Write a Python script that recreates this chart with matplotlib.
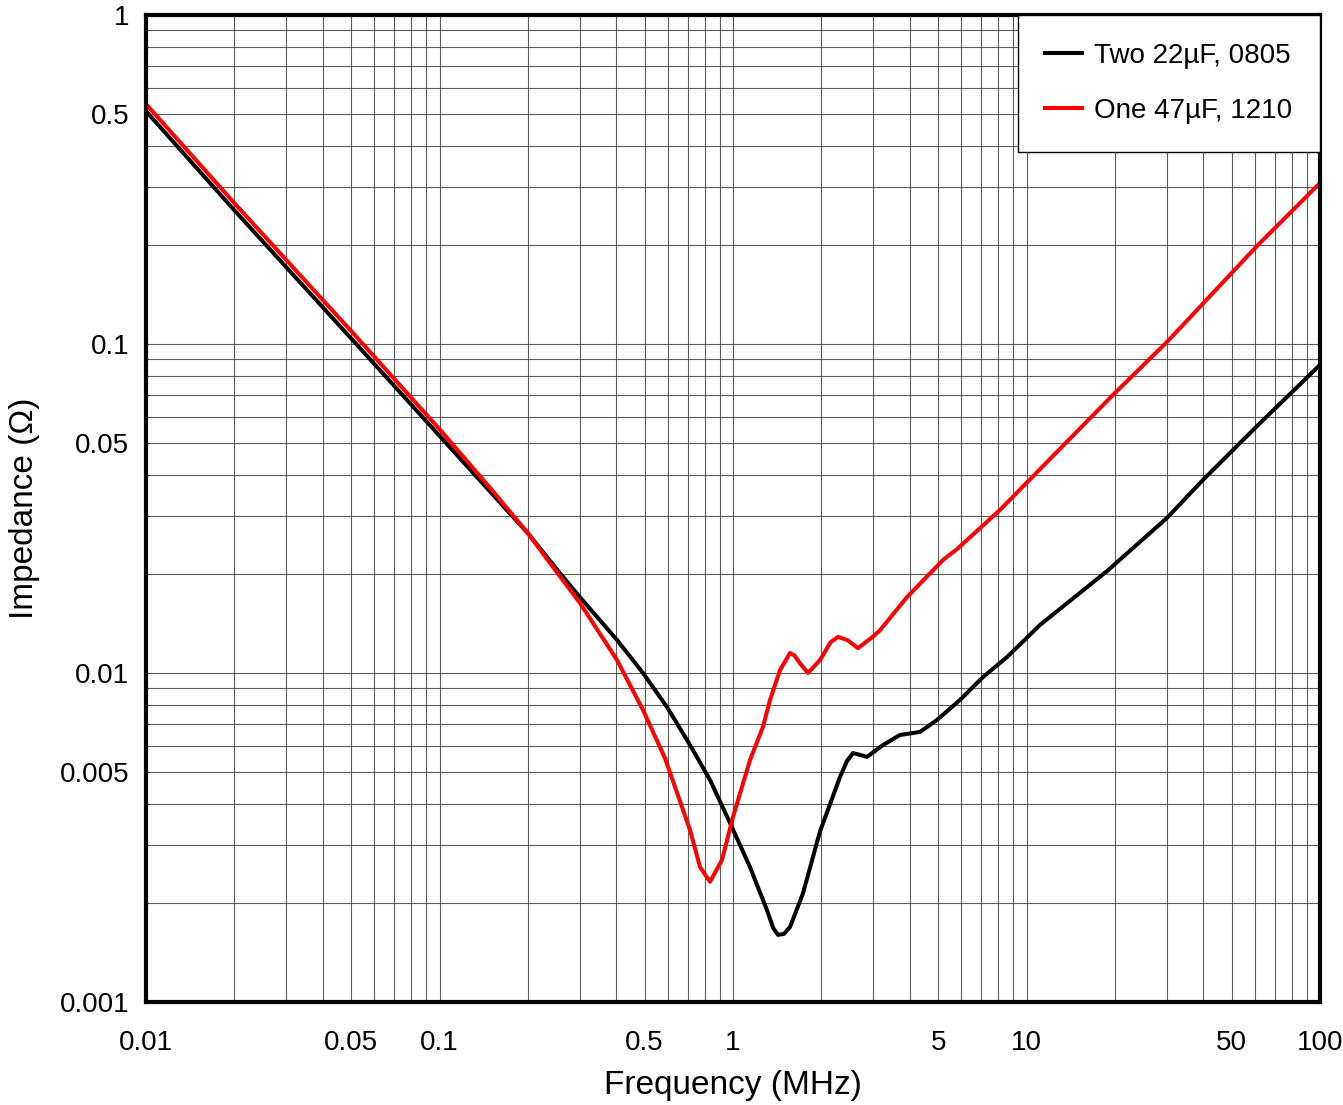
import matplotlib
matplotlib.use("Agg")
import matplotlib.pyplot as plt
from matplotlib.ticker import FixedLocator, FixedFormatter, LogLocator, NullFormatter

plt.rcParams['font.family'] = ['Liberation Sans', 'DejaVu Sans']

# Frequency (MHz) and impedance (Ohm)
freq_two22 = [0.01, 0.02, 0.05, 0.1, 0.2, 0.2574, 0.301, 0.4025, 0.4936, 0.596, 0.714,
              0.835, 0.977, 1.143, 1.306, 1.37, 1.423, 1.49, 1.564, 1.732, 1.979, 2.315,
              2.445, 2.564, 2.646, 2.861, 3.244, 3.707, 4.337, 4.956, 5.935, 7.108, 8.583,
              11.12, 18.8, 30.1, 39.9, 61.0, 100.0]
z_two22 = [0.51, 0.255, 0.104, 0.0526, 0.0266, 0.0201, 0.0170, 0.0126, 0.0100, 0.00788,
           0.00604, 0.00473, 0.0035, 0.00257, 0.0019, 0.00168, 0.0016, 0.00161, 0.00169,
           0.00214, 0.0033, 0.00483, 0.0054, 0.00571, 0.00567, 0.00556, 0.00604, 0.00648,
           0.00662, 0.0072, 0.00828, 0.00972, 0.01118, 0.014, 0.0204, 0.0296, 0.0386,
           0.0563, 0.0864]

freq_one47 = [0.01, 0.02, 0.05, 0.1, 0.15, 0.2, 0.2435, 0.301, 0.4025, 0.4936, 0.5865,
              0.714, 0.772, 0.835, 0.917, 1.0, 1.143, 1.265, 1.337, 1.446, 1.564, 1.62,
              1.691, 1.801, 1.979, 2.15, 2.279, 2.45, 2.667, 3.0, 3.17, 3.915, 5.194, 5.8,
              8.12, 19.7, 30.1, 61.0, 100.0]
z_one47 = [0.536, 0.268, 0.1095, 0.0551, 0.0362, 0.0266, 0.021, 0.01632, 0.01095, 0.00772,
           0.00551, 0.00333, 0.00257, 0.00232, 0.0027, 0.00365, 0.00544, 0.00686, 0.00828,
           0.0102, 0.0115, 0.0113, 0.0107, 0.0100, 0.01095, 0.0124, 0.01287, 0.0126, 0.0119,
           0.0129, 0.0135, 0.0170, 0.02206, 0.0238, 0.0313, 0.070, 0.1014, 0.1986, 0.3086]

series_labels = ['Two 22µF, 0805', 'One 47µF, 1210']

x_ticks = [0.01, 0.05, 0.1, 0.5, 1, 5, 10, 50, 100]
x_ticklabels = ['0.01', '0.05', '0.1', '0.5', '1', '5', '10', '50', '100']
y_ticks = [0.001, 0.005, 0.01, 0.05, 0.1, 0.5, 1]
y_ticklabels = ['0.001', '0.005', '0.01', '0.05', '0.1', '0.5', '1']

fig = plt.figure(figsize=(13.43, 11.05), dpi=100)
ax = fig.add_axes([146/1343, 1 - 1002/1105, (1320-146)/1343, (1002-15)/1105])

ax.plot(freq_two22, z_two22, color='black', lw=2.9, label=series_labels[0], zorder=3,
        solid_joinstyle='round')
ax.plot(freq_one47, z_one47, color='#ff0000', lw=2.9, label=series_labels[1], zorder=4,
        solid_joinstyle='round')

ax.set_xscale('log')
ax.set_yscale('log')
ax.set_xlim(0.01, 100)
ax.set_ylim(0.001, 1)

ax.xaxis.set_major_locator(FixedLocator(x_ticks))
ax.xaxis.set_major_formatter(FixedFormatter(x_ticklabels))
ax.yaxis.set_major_locator(FixedLocator(y_ticks))
ax.yaxis.set_major_formatter(FixedFormatter(y_ticklabels))
ax.xaxis.set_minor_locator(LogLocator(base=10, subs=range(1, 10), numticks=50))
ax.yaxis.set_minor_locator(LogLocator(base=10, subs=range(1, 10), numticks=50))
ax.xaxis.set_minor_formatter(NullFormatter())
ax.yaxis.set_minor_formatter(NullFormatter())

ax.grid(True, which='both', color='#404040', lw=0.8, alpha=0.85)
ax.tick_params(which='both', length=0, labelsize=20)
ax.tick_params(axis='x', pad=20)
ax.tick_params(axis='y', pad=12)
for s in ax.spines.values():
    s.set_linewidth(3)
    s.set_color('black')
    s.set_zorder(6)

ax.set_xlabel('Frequency (MHz)', fontsize=24, labelpad=10)
ax.set_ylabel('Impedance (Ω)', fontsize=24, labelpad=14)

leg = ax.legend(loc='upper right', borderaxespad=0, fancybox=False, fontsize=20,
                edgecolor='black', framealpha=1, handlelength=1.3, handletextpad=0.45,
                borderpad=1.0, labelspacing=1.05)
leg.get_frame().set_linewidth(1.0)
leg.set_zorder(10)

fig.savefig('out.png', dpi=100)
